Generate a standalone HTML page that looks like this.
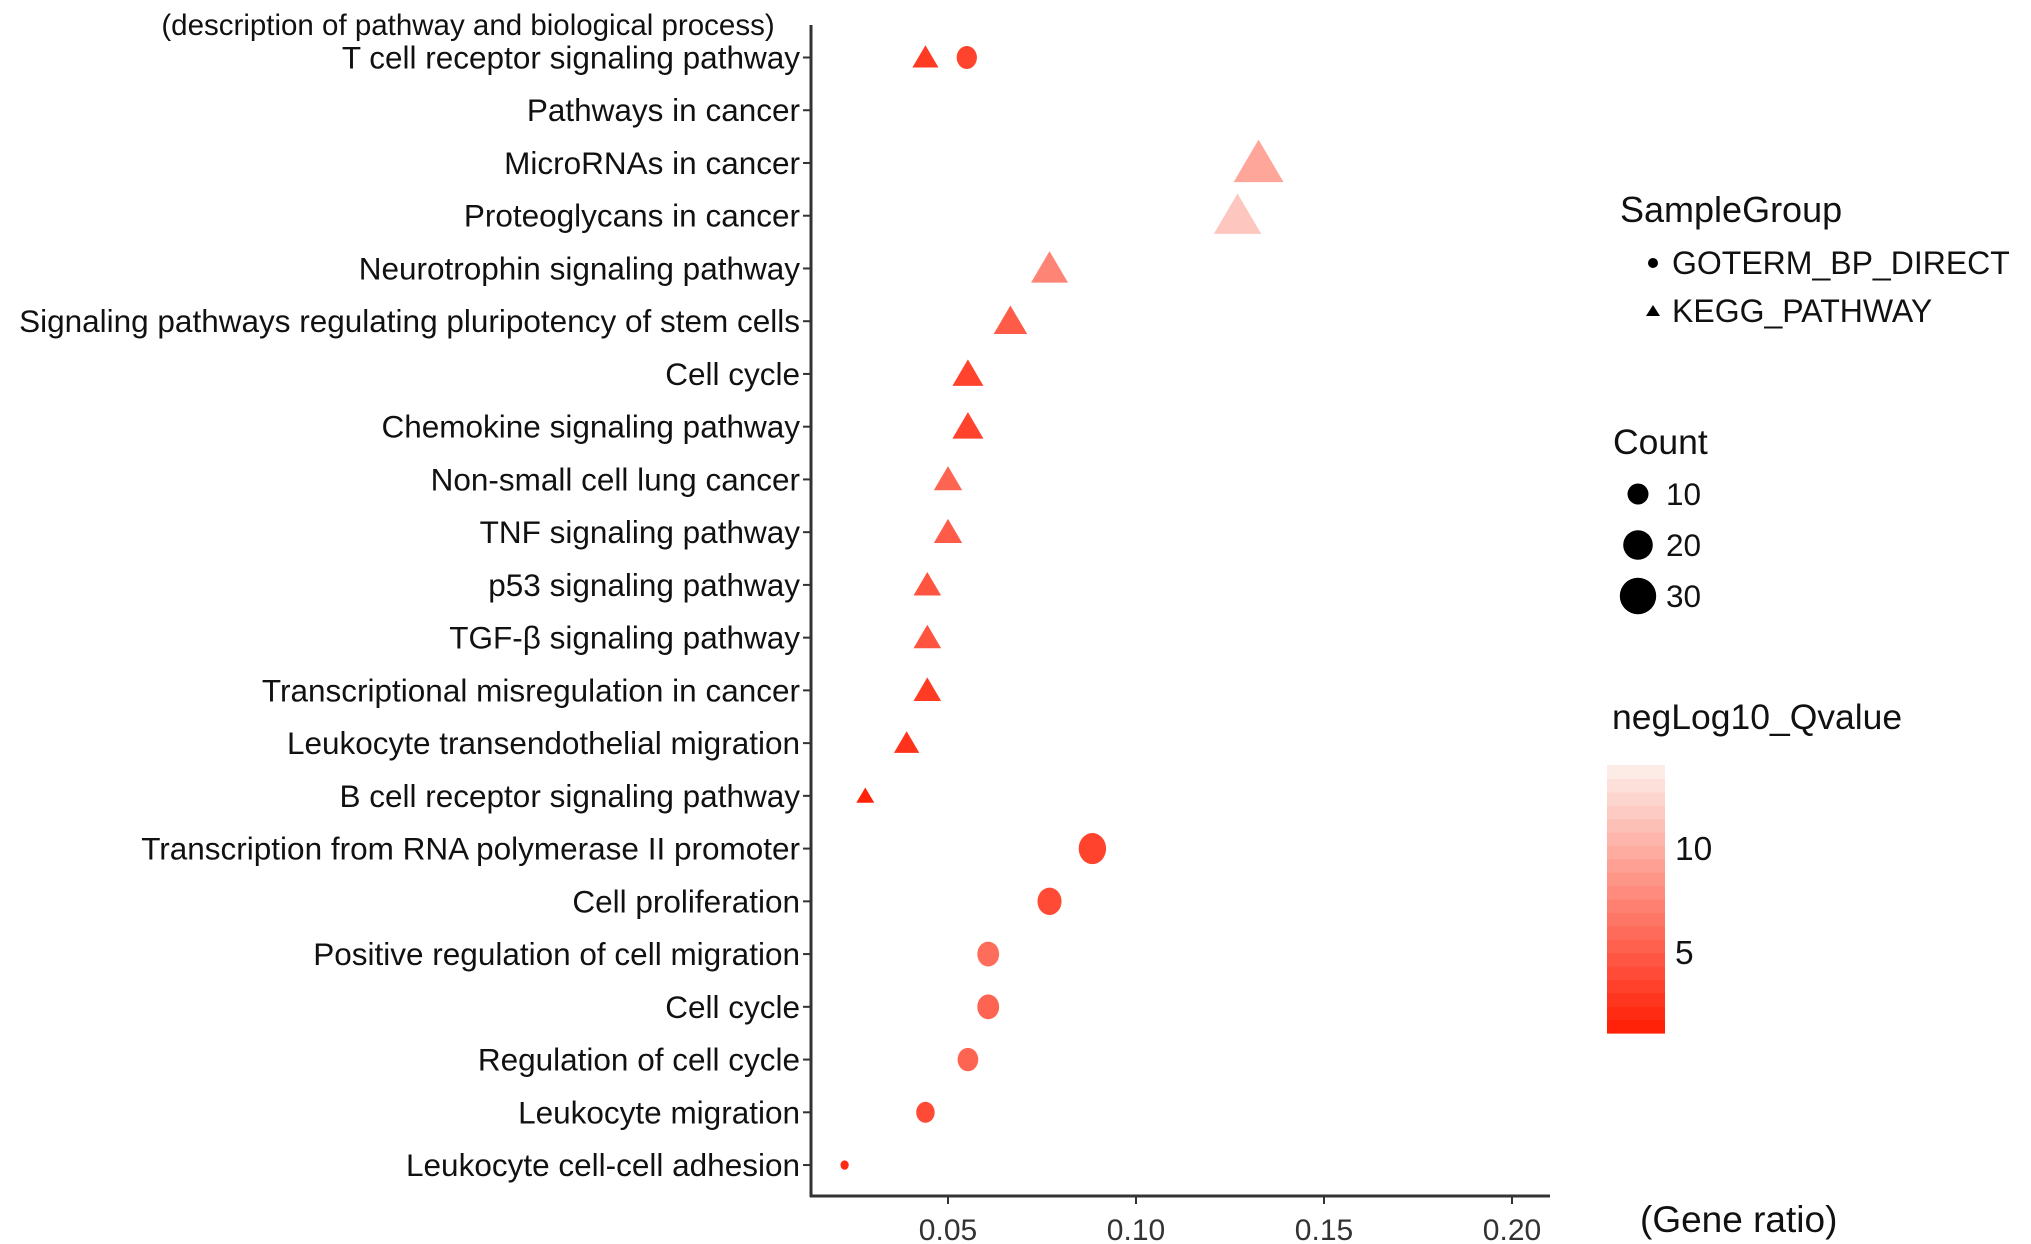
<!DOCTYPE html>
<html><head><meta charset="utf-8"><style>
html,body{margin:0;padding:0;background:#fff;}
svg{display:block;font-family:"Liberation Sans",sans-serif;}
</style></head><body>
<svg id="chart" width="2031" height="1244" viewBox="0 0 2031 1244" xmlns="http://www.w3.org/2000/svg">
<text x="468" y="35" font-size="29.5" text-anchor="middle" fill="#111">(description of pathway and biological process)</text>
<g id="plot"></g>
<g>
<text x="1620" y="222" font-size="36" fill="#111">SampleGroup</text>
<circle cx="1653" cy="263" r="5" fill="#000"/>
<text x="1672" y="274" font-size="32" fill="#111">GOTERM_BP_DIRECT</text>
<polygon points="1646,316 1660,316 1653,305" fill="#000"/>
<text x="1672" y="322" font-size="32" fill="#111">KEGG_PATHWAY</text>
</g>
<g>
<text x="1613" y="454" font-size="35.5" fill="#111">Count</text>
<circle cx="1638" cy="494" r="10.5" fill="#000"/>
<text x="1666" y="505" font-size="31.5" fill="#111">10</text>
<circle cx="1638" cy="545" r="14.8" fill="#000"/>
<text x="1666" y="556" font-size="31.5" fill="#111">20</text>
<circle cx="1638" cy="596" r="18.2" fill="#000"/>
<text x="1666" y="607" font-size="31.5" fill="#111">30</text>
</g>
<g>
<text x="1612" y="729" font-size="35.5" fill="#111">negLog10_Qvalue</text>
<g id="cbar"></g>
</g>
<text x="1640" y="1232" font-size="37" fill="#111">(Gene ratio)</text>
</svg>
<script>
const labels=["T cell receptor signaling pathway","Pathways in cancer","MicroRNAs in cancer","Proteoglycans in cancer","Neurotrophin signaling pathway","Signaling pathways regulating pluripotency of stem cells","Cell cycle","Chemokine signaling pathway","Non-small cell lung cancer","TNF signaling pathway","p53 signaling pathway","TGF-\u03b2 signaling pathway","Transcriptional misregulation in cancer","Leukocyte transendothelial migration","B cell receptor signaling pathway","Transcription from RNA polymerase II promoter","Cell proliferation","Positive regulation of cell migration","Cell cycle","Regulation of cell cycle","Leukocyte migration","Leukocyte cell-cell adhesion"];
const ptRow=[0,0,2,3,4,5,6,7,8,9,10,11,12,13,14,15,16,17,18,19,20,21];
const ptGroup=["KEGG","GO","KEGG","KEGG","KEGG","KEGG","KEGG","KEGG","KEGG","KEGG","KEGG","KEGG","KEGG","KEGG","KEGG","GO","GO","GO","GO","GO","GO","GO"];
const ptRatio=[0.044,0.055,0.1326,0.127,0.077,0.0666,0.0553,0.0553,0.050,0.050,0.0445,0.0445,0.0445,0.039,0.028,0.0884,0.077,0.0607,0.0607,0.0553,0.044,0.0225];
const ptCount=[8.5,12,31,28,17,14,12,12,10,10,9.5,9.5,9.5,8,4,22,17,14,14,12.5,10,2];
const ptQ=[3,3.5,9.5,11.5,7.5,5,3.5,3.5,5.5,5,4.5,4.5,3,2.5,1.5,3.5,4,6,5.5,5.5,4,2];
const xTicks=[0.05,0.10,0.15,0.20];
const xTickLabels=["0.05","0.10","0.15","0.20"];
const qTicks=[5,10];
const NS="http://www.w3.org/2000/svg";
const xS=v=>760+3760*v;
const yS=i=>57.5+52.74*i;
const rS=c=>10.5*Math.sqrt(c/10);
const qY=q=>1056-20.8*q;
function col(q){const t=Math.max(0,Math.min(1,(q-1)/13));
 const a=[255,26,0],b=[253,240,236];
 return "rgb("+a.map((v,i)=>Math.round(v+(b[i]-v)*t)).join(",")+")";}
function mk(tag,attrs,parent){const e=document.createElementNS(NS,tag);for(const k in attrs)e.setAttribute(k,attrs[k]);parent.appendChild(e);return e;}
const plot=document.getElementById("plot");
let ax=mk("line",{x1:811,y1:25,x2:811,y2:1197,stroke:"#333","stroke-width":3},plot);


let bx=mk("line",{x1:810,y1:1196,x2:1550,y2:1196,stroke:"#333","stroke-width":3},plot);


labels.forEach((l,i)=>{
 const y=yS(i);
 const tk=mk("line",{x1:803,y1:y,x2:811,y2:y,stroke:"#333","stroke-width":2},plot);
 
 
 const t=mk("text",{x:800,y:y+11,"font-size":31.5,"text-anchor":"end",fill:"#111"},plot);
 t.textContent=l;
 
 
});
xTicks.forEach((v,i)=>{
 const x=xS(v);
 const tk=mk("line",{x1:x,y1:1196,x2:x,y2:1204,stroke:"#333","stroke-width":2},plot);
 
 
 const t=mk("text",{x:x,y:1240,"font-size":30,"text-anchor":"middle",fill:"#333"},plot);
 t.textContent=xTickLabels[i];
 
 
});
ptRow.forEach((row,i)=>{
 const cx=xS(ptRatio[i]),cy=yS(row),r=rS(ptCount[i]),c=col(ptQ[i]);
 let e;
 if(ptGroup[i]==="GO"){
  e=mk("ellipse",{cx:cx,cy:cy,rx:r*0.88,ry:r,fill:c},plot);
  
 }else{
  const w=r*1.35,h=r*2.3;
  e=mk("polygon",{points:(cx-w)+","+(cy+h*0.45)+" "+(cx+w)+","+(cy+h*0.45)+" "+cx+","+(cy-h*0.55),fill:c},plot);
  
 }
 
});
const cb=document.getElementById("cbar");
const cbTop=765,cbBot=1033,nSeg=20;
for(let k=0;k<nSeg;k++){
 const y0=cbBot-(cbBot-cbTop)*(k+1)/nSeg;
 const q=(1056-(y0+(cbBot-cbTop)/nSeg/2))/20.8;
 const s=mk("rect",{x:1607,y:y0,width:58,height:(cbBot-cbTop)/nSeg+0.6,fill:col(q)},cb);
 
 
}
qTicks.forEach(q=>{
 const y=qY(q);
 const t=mk("text",{x:1675,y:y+12,"font-size":33.5,fill:"#111"},cb);
 t.textContent=String(q);
 
 
});
</script>
</body></html>
